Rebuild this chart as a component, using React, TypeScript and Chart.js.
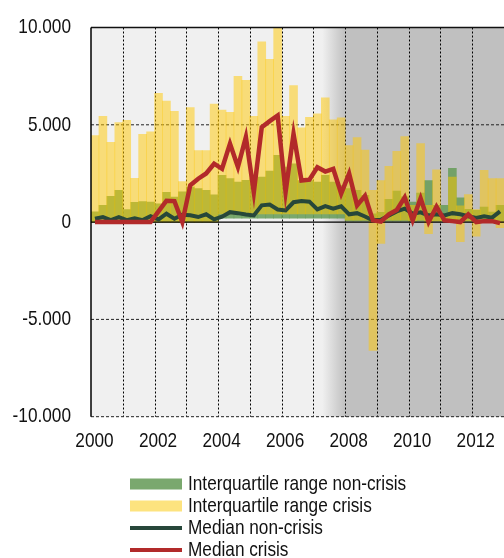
import React, { useEffect, useRef } from 'react';
import { Chart, registerables } from 'chart.js';

Chart.register(...registerables);

// ---------- DATA (quarterly, 2000Q1 .. 2012Q4) ----------
const START_YEAR = 2000;
const QUARTERS_PER_YEAR = 4;

const crisisHigh = [
  4450, 5430, 4100, 5120, 5230, 2250, 4510, 4640,
  6620, 6220, 5690, 2080, 5880, 3680, 3680, 6070,
  5760, 5640, 7490, 7280, 5430, 9270, 8360, 10000,
  5430, 7010, 4850, 5380, 5570, 6380, 5250, 5360,
  3930, 4340, 3700, 1630, 2140, 2860, 3640, 4400,
  860, 4030, 860, 2690, 400, 2310, 840, 1410,
  640, 2660, 2230, 2230,
];
const crisisLow = [
  0, 0, 0, 0, 0, 0, 0, 0,
  0, 0, 0, 0, 0, 0, 0, 0,
  420, 420, 420, 420, 420, 420, 420, 420,
  420, 420, 420, 420, 420, 420, 420, 420,
  100, 100, 100, -6600, -1100, 100, 100, 100,
  50, 100, -600, 50, 50, 50, -1000, 50,
  -720, 0, 0, -280,
];
const nonCrisisHigh = [
  530, 860, 1320, 1630, 640, 1010, 1060, 1030,
  940, 1530, 1290, 1560, 1800, 1720, 1630, 1400,
  2400, 2230, 2060, 2150, 2230, 2310, 2620, 3430,
  2830, 3000, 2140, 2140, 2060, 2400, 2060, 1890,
  1720, 1630, 1370, 430, 500, 1170, 1600, 1300,
  1030, 1490, 2140, 860, 860, 2760, 1250, 650,
  600, 770, 510, 860,
];
const nonCrisisLow = [
  0, 0, 0, 0, 0, 0, 0, 0,
  0, 0, 0, 0, 0, 0, 0, 0,
  200, 200, 200, 200, 200, 200, 200, 200,
  200, 200, 200, 200, 200, 200, 200, 200,
  50, 50, 50, 50, 50, 50, 50, 50,
  50, 50, 50, 50, 50, 50, 50, 50,
  50, 50, 50, 50,
];
const nonCrisisMedian = [
  170, 260, 100, 260, 100, 200, 100, 300,
  140, 430, 170, 380, 350, 260, 400, 140,
  280, 510, 460, 390, 340, 860, 900, 650,
  600, 1020, 1080, 1050, 650, 820, 690, 810,
  400, 460, 290, 90, 120, 340, 550, 690,
  430, 500, 340, 400, 340, 460, 400, 300,
  210, 300, 230, 550,
];
const crisisMedian = [
  0, 0, 0, 0, 0, 0, 0, 0,
  550, 1100, 1080, 0, 1900, 2230, 2500, 3000,
  2740, 4030, 2830, 4370, 1540, 4880, 5190, 5480,
  1540, 4540, 2140, 2180, 2820, 2600, 2740, 1470,
  2490, 860, 1350, 90, 20, 400, 620, 1270,
  90, 1220, 0, 790, 90, 50, 0, 400,
  0, 50, 50, -50,
];

const Y_MIN = -10000;
const Y_MAX = 10000;
const Y_STEP = 5000;
const X_MIN = 2000;
const X_MAX = 2013;
const X_LABEL_YEARS = [2000, 2002, 2004, 2006, 2008, 2010, 2012];
const SHADE_START = 2007.28;
const SHADE_FULL = 2008.0;

const LEGEND_LABELS = [
  'Interquartile range non-crisis',
  'Interquartile range crisis',
  'Median non-crisis',
  'Median crisis',
];

// ---------- STYLE ----------
const FONT = "'Liberation Sans', Arial, sans-serif";
const FONT_SIZE = 21;
const NARROW = 0.82; // horizontal condensing (Arial Narrow look)
const TEXT_COLOR = '#111';
const GREEN_BAR = 'rgba(101,155,87,0.85)';
const GREEN_SWATCH = 'rgb(122,168,110)';
const YELLOW_BAR = 'rgba(255,200,0,0.5)';
const YELLOW_SWATCH = 'rgb(253,227,127)';
const DARK_GREEN = '#27473a';
const RED = '#b22a2a';

function fmt(v: number): string {
  const s = Math.abs(v).toString().replace(/\B(?=(\d{3})+(?!\d))/g, '.');
  return (v < 0 ? '-' : '') + s;
}

function narrowText(ctx: CanvasRenderingContext2D, text: string, x: number, y: number, align: CanvasTextAlign, baseline: CanvasTextBaseline) {
  ctx.save();
  ctx.translate(x, y);
  ctx.scale(NARROW, 1);
  ctx.font = `${FONT_SIZE}px ${FONT}`;
  ctx.fillStyle = TEXT_COLOR;
  ctx.textAlign = align;
  ctx.textBaseline = baseline;
  ctx.fillText(text, 0, 0);
  ctx.restore();
}

const plotDecor = {
  id: 'plotDecor',
  beforeDraw(chart: any) {
    const { ctx, chartArea: a, scales } = chart;
    const x = scales.x;
    const y = scales.y;
    ctx.save();
    ctx.fillStyle = '#f0f0f0';
    ctx.fillRect(a.left, a.top, a.right - a.left, a.bottom - a.top);
    const xs = x.getPixelForValue(SHADE_START);
    const xe = x.getPixelForValue(SHADE_FULL);
    const g = ctx.createLinearGradient(xs, 0, xe, 0);
    g.addColorStop(0, '#f0f0f0');
    g.addColorStop(1, '#c0c0c0');
    ctx.fillStyle = g;
    ctx.fillRect(xs, a.top, xe - xs, a.bottom - a.top);
    ctx.fillStyle = '#c0c0c0';
    ctx.fillRect(xe, a.top, a.right - xe, a.bottom - a.top);

    // vertical dotted grid at each year
    ctx.strokeStyle = '#000';
    ctx.lineWidth = 1;
    ctx.setLineDash([2, 2]);
    for (let yr = X_MIN + 1; yr < X_MAX; yr++) {
      const px = Math.round(x.getPixelForValue(yr)) + 0.5;
      ctx.beginPath();
      ctx.moveTo(px, a.top);
      ctx.lineTo(px, a.bottom);
      ctx.stroke();
    }
    // horizontal dashed grid
    ctx.strokeStyle = '#222';
    ctx.setLineDash([3, 2]);
    for (let v = Y_MIN; v < Y_MAX; v += Y_STEP) {
      if (v === 0) continue;
      const py = y.getPixelForValue(v);
      ctx.beginPath();
      ctx.moveTo(a.left, py);
      ctx.lineTo(a.right, py);
      ctx.stroke();
    }
    ctx.restore();
  },
  beforeDatasetsDraw(chart: any) {
    chart.$zeroDrawn = false;
  },
  beforeDatasetDraw(chart: any, args: any) {
    if (args.meta.type === 'line' && !chart.$zeroDrawn) {
      chart.$zeroDrawn = true;
      const { ctx, chartArea: a, scales } = chart;
      const py = scales.y.getPixelForValue(0);
      ctx.save();
      ctx.strokeStyle = '#000';
      ctx.lineWidth = 1.2;
      ctx.beginPath();
      ctx.moveTo(a.left, py);
      ctx.lineTo(a.right, py);
      ctx.stroke();
      ctx.restore();
    }
  },
  afterDatasetsDraw(chart: any) {
    const { ctx, chartArea: a } = chart;
    ctx.save();
    ctx.strokeStyle = '#111';
    ctx.lineWidth = 1.5;
    ctx.beginPath();
    ctx.moveTo(a.left, a.top);
    ctx.lineTo(a.right, a.top);
    ctx.stroke();
    ctx.strokeStyle = '#000';
    ctx.beginPath();
    ctx.moveTo(a.left, a.top);
    ctx.lineTo(a.left, a.bottom);
    ctx.stroke();
    ctx.restore();
  },
  afterDraw(chart: any) {
    const { ctx, chartArea: a, scales } = chart;
    // axis tick labels (condensed)
    scales.y.ticks.forEach((t: any) => {
      narrowText(ctx, fmt(t.value), a.left - 20, scales.y.getPixelForValue(t.value), 'right', 'middle');
    });
    X_LABEL_YEARS.forEach((yr) => {
      narrowText(ctx, String(yr), scales.x.getPixelForValue(yr) + 3.5, a.bottom + 14, 'center', 'top');
    });

    // legend
    const ds = chart.data.datasets;
    const x0 = 130;
    const w = 52;
    const tx = 188;
    const rowY = [484, 506, 528, 550];
    ctx.save();
    LEGEND_LABELS.forEach((label, i) => {
      const cy = rowY[i];
      const d = ds[i];
      if (d.type === 'line') {
        ctx.strokeStyle = d.borderColor;
        ctx.lineWidth = 4;
        ctx.beginPath();
        ctx.moveTo(x0, cy);
        ctx.lineTo(x0 + w, cy);
        ctx.stroke();
      } else {
        ctx.fillStyle = i === 0 ? GREEN_SWATCH : YELLOW_SWATCH;
        ctx.fillRect(x0, cy - 5.5, w, 11);
      }
      narrowText(ctx, label, tx, cy, 'left', 'middle');
    });
    ctx.restore();
  },
};

export default function App() {
  const ref = useRef<HTMLCanvasElement | null>(null);

  useEffect(() => {
    document.body.style.margin = '0';
    const canvas = ref.current;
    if (!canvas) return;
    const xs = crisisHigh.map((_, i) => START_YEAR + (i + 0.5) / QUARTERS_PER_YEAR);

    const chart = new Chart(canvas, {
      type: 'bar',
      data: {
        datasets: [
          {
            type: 'bar',
            label: LEGEND_LABELS[0],
            data: xs.map((x, i) => ({ x, y: [nonCrisisLow[i], nonCrisisHigh[i]] })) as any,
            backgroundColor: GREEN_BAR,
            borderWidth: 0,
            grouped: false,
            barPercentage: 1,
            categoryPercentage: 1,
            order: 4,
          },
          {
            type: 'bar',
            label: LEGEND_LABELS[1],
            data: xs.map((x, i) => ({ x, y: [crisisLow[i], crisisHigh[i]] })) as any,
            backgroundColor: YELLOW_BAR,
            borderWidth: 0,
            grouped: false,
            barPercentage: 1,
            categoryPercentage: 1,
            order: 3,
          },
          {
            type: 'line',
            label: LEGEND_LABELS[2],
            data: xs.map((x, i) => ({ x, y: nonCrisisMedian[i] })) as any,
            borderColor: DARK_GREEN,
            borderWidth: 4,
            pointRadius: 0,
            tension: 0,
            order: 2,
          },
          {
            type: 'line',
            label: LEGEND_LABELS[3],
            data: xs.map((x, i) => ({ x, y: crisisMedian[i] })) as any,
            borderColor: RED,
            borderWidth: 4.5,
            pointRadius: 0,
            tension: 0,
            order: 1,
          },
        ] as any,
      },
      options: {
        responsive: false,
        animation: false,
        devicePixelRatio: 1,
        layout: { padding: { top: 27.5, right: 0, left: 0, bottom: 0 } },
        plugins: {
          legend: { display: false },
          tooltip: { enabled: false },
        },
        scales: {
          x: {
            type: 'linear',
            min: X_MIN,
            max: X_MAX,
            offset: false,
            grid: { display: false, drawTicks: false },
            border: { display: false },
            ticks: { display: false, stepSize: 1 },
            afterFit: (s: any) => {
              s.height = 141.3;
            },
          },
          y: {
            min: Y_MIN,
            max: Y_MAX,
            grid: { display: false, drawTicks: false },
            border: { display: false },
            ticks: { display: false, stepSize: Y_STEP },
            afterFit: (s: any) => {
              s.width = 91;
            },
          },
        },
      },
      plugins: [plotDecor],
    });
    return () => chart.destroy();
  }, []);

  return (
    <div style={{ width: 504, height: 558 }}>
      <canvas ref={ref} width={504} height={558} style={{ display: 'block' }} />
    </div>
  );
}
